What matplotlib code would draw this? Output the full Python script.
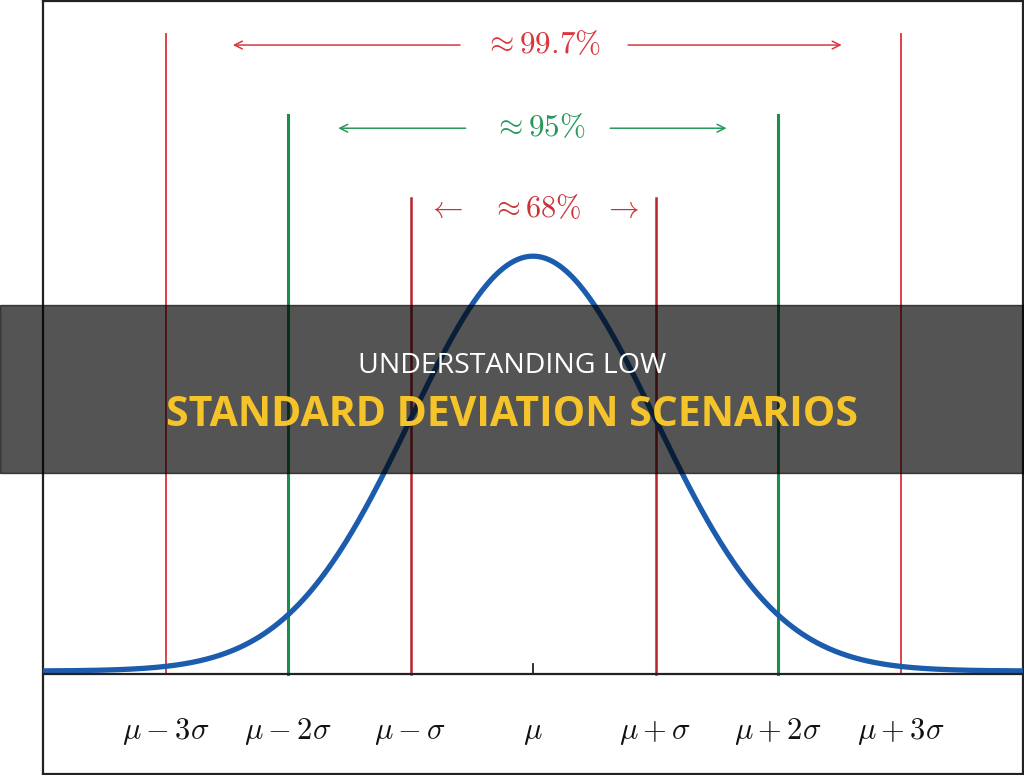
import numpy as np
import matplotlib
matplotlib.use('Agg')
import matplotlib.pyplot as plt
from matplotlib import rcParams

rcParams['mathtext.fontset'] = 'cm'
rcParams['font.family'] = ['Open Sans', 'DejaVu Sans']

# Data
mu = 0.0
sigma = 1.0
k_values = [-3, -2, -1, 0, 1, 2, 3]
tick_labels = [r'$\mu - 3\sigma$', r'$\mu - 2\sigma$', r'$\mu - \sigma$', r'$\mu$',
               r'$\mu + \sigma$', r'$\mu + 2\sigma$', r'$\mu + 3\sigma$']
band_k = [3, 2, 1]
band_labels = [r'$\approx 99.7\%$', r'$\approx 95\%$', r'$\approx 68\%$']
band_colors = ['#e0323c', '#18904c', '#b8242c']
band_text_colors = ['#d9363e', '#27995a', '#c9343b']
band_widths = [1.3, 2.2, 1.8]
line_tops = [0.616, 0.538, 0.458]
arrow_y = [0.605, 0.525, 0.447]

title_line1 = 'UNDERSTANDING LOW'
title_line2 = 'STANDARD DEVIATION SCENARIOS'

fig = plt.figure(figsize=(10.24, 7.75), dpi=100)
ax = fig.add_axes([43 / 1024, 0.0015, 980 / 1024, 0.997])

x = np.linspace(-4, 4, 600)
pdf = np.exp(-0.5 * ((x - mu) / sigma) ** 2) / (sigma * np.sqrt(2 * np.pi))
ax.plot(x, pdf + 0.003, color='#1c5cad', lw=3.8, solid_capstyle='butt', zorder=3)

# horizontal axis and mean tick
ax.axhline(0, color='#222222', lw=1.6, zorder=4)
ax.plot([mu, mu], [0, 0.01], color='#222222', lw=1.3, zorder=4)

# vertical sigma lines
for k, top, c, w in zip(band_k, line_tops, band_colors, band_widths):
    for s in (-1, 1):
        ax.plot([mu + s * k * sigma] * 2, [0, top], color=c, lw=w, zorder=2)

# arrows with labels
gaps = [(-0.596, 0.776, 0.08), (-0.55, 0.63, 0.05)]
ends = [(-2.45, 2.52), (-1.59, 1.58)]
for i in range(2):
    gl, gr, cx = gaps[i]
    el, er = ends[i]
    c = band_text_colors[i]
    ax.annotate('', xy=(el, arrow_y[i]), xytext=(gl, arrow_y[i]),
                arrowprops=dict(arrowstyle='->', color=c, lw=1.1,
                                mutation_scale=14, shrinkA=0, shrinkB=0))
    ax.annotate('', xy=(er, arrow_y[i]), xytext=(gr, arrow_y[i]),
                arrowprops=dict(arrowstyle='->', color=c, lw=1.1,
                                mutation_scale=14, shrinkA=0, shrinkB=0))
    ax.text(cx, arrow_y[i], band_labels[i], color=c, fontsize=22.5,
            ha='center', va='center')

ax.text(0.0, arrow_y[2], r'$\leftarrow\;\;\;\approx 68\%\;\;\;\rightarrow$',
        color=band_text_colors[2], fontsize=22, ha='center', va='center')

# tick labels
for k, lab in zip(k_values, tick_labels):
    ax.text(mu + k * sigma, -0.0556, lab, fontsize=22, ha='center', va='center',
            color='#111111')

ax.set_xlim(-4, 4)
ax.set_ylim(-0.0959, 0.6472)
ax.set_xticks([])
ax.set_yticks([])
for sp in ax.spines.values():
    sp.set_linewidth(1.6)
    sp.set_color('#222222')

# title overlay band
fig.patches.append(plt.Rectangle((0, 1 - 473 / 775), 1, 168 / 775,
                                 transform=fig.transFigure, color='black',
                                 alpha=0.67, zorder=10))
fig.text(0.5, 1 - 366 / 775, title_line1, color='white', fontsize=20.5,
         ha='center', va='center', zorder=11)
fig.text(0.5, 1 - 415 / 775, title_line2, color='#f5c32a', fontsize=29.5,
         fontweight='bold', ha='center', va='center', zorder=11)

fig.savefig('out.png', dpi=100)
